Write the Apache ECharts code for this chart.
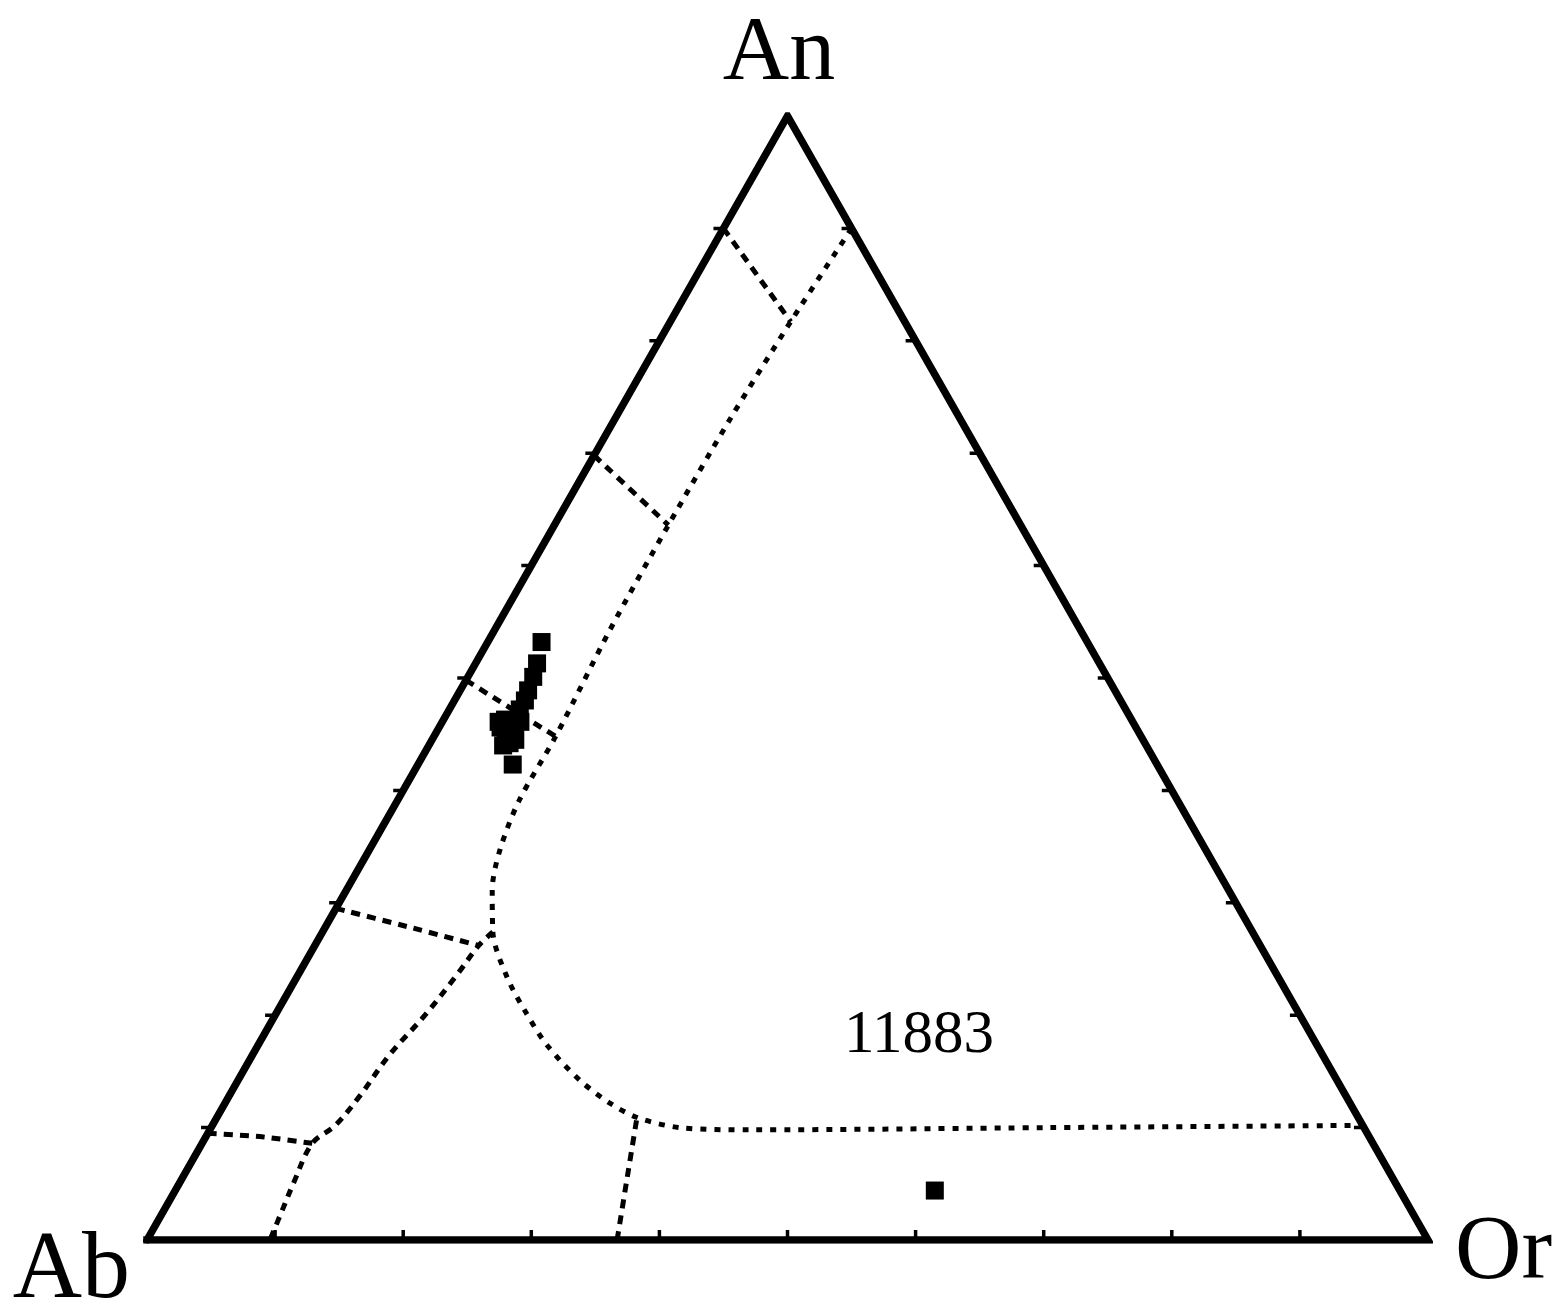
<!DOCTYPE html>
<html>
<head>
<meta charset="utf-8">
<script src="https://cdn.jsdelivr.net/npm/echarts@6/dist/echarts.min.js"></script>
<style>
  html, body { margin: 0; padding: 0; background: #ffffff; }
  #chart { width: 1566px; height: 1309px; }
</style>
</head>
<body>
<div id="chart"></div>
<script>
// Feldspar ternary diagram Ab – An – Or. Every composition is [Ab, An, Or] in mol %.
const vertexNames = ['Ab', 'An', 'Or'];
const sampleLabel = '11883';
const tickPercents = [10, 20, 30, 40, 50, 60, 70, 80, 90];

// analysed plagioclase grains (cluster near the Ab–An join)
const plagioclase = [
  [42.6, 53.2, 4.2], [43.9, 51.3, 4.8], [44.8, 50.1, 5.1], [45.8, 48.9, 5.3],
  [46.5, 48.0, 5.5], [47.3, 47.2, 5.5], [48.3, 46.0, 5.7], [49.1, 45.4, 5.5],
  [49.6, 44.8, 5.6], [49.6, 44.2, 6.2], [49.6, 45.6, 4.8], [50.2, 44.0, 5.8],
  [50.3, 42.3, 7.4], [49.5, 46.1, 4.4], [48.9, 46.3, 4.8], [47.8, 46.1, 6.1],
  [49.0, 44.5, 6.5]
];
// analysed alkali feldspar grain
const alkaliFeldspar = [
  [36.3, 4.4, 59.3]
];

// feldspar solvus (outer boundary)
const solvusOuter = [
  [0.0, 90.0, 10.0], [8.9, 81.7, 9.4], [18.0, 73.0, 9.0], [27.5, 63.6, 8.9],
  [36.7, 54.3, 9.0], [45.7, 44.8, 9.5], [51.4, 39.1, 9.5], [55.1, 34.7, 10.2],
  [57.5, 31.1, 11.4], [59.3, 27.4, 13.3], [60.2, 23.4, 16.4], [60.3, 20.3, 19.4],
  [60.1, 17.3, 22.6], [59.1, 14.2, 26.7], [57.8, 12.2, 30.0], [56.3, 10.9, 32.8],
  [53.4, 10.0, 36.6], [48.0, 9.8, 42.2], [24.5, 10.0, 65.5], [0.0, 10.2, 89.8]
];
// inner boundary towards the Ab corner
const solvusInner = [
  [59.3, 27.4, 13.3], [61.0, 26.2, 12.8], [64.0, 23.6, 12.4], [68.3, 20.0, 11.7],
  [72.8, 16.5, 10.7], [77.0, 12.8, 10.2], [80.2, 10.2, 9.6], [82.8, 8.6, 8.6],
  [86.0, 5.1, 8.9], [87.9, 2.9, 9.2], [90.4, 0.0, 9.6]
];
// tie lines
const tieLines = [
  [[10.0, 90.0, 0.0], [8.9, 81.7, 9.4]],
  [[30.2, 69.8, 0.0], [27.5, 63.6, 8.9]],
  [[50.2, 49.8, 0.0], [45.7, 44.8, 9.5]],
  [[70.5, 29.5, 0.0], [65.5, 27.8, 6.7], [61.0, 26.2, 12.8]],
  [[90.5, 9.5, 0.0], [86.6, 9.2, 4.2], [82.8, 8.6, 8.6]],
  [[63.3, 0.0, 36.7], [59.9, 5.3, 34.8], [56.3, 10.9, 32.8]]
];

// ternary composition -> cartesian position (x: 0..1 along Ab–Or, y: An fraction)
function toXY(c) {
  const s = c[0] + c[1] + c[2];
  const an = c[1] / s, or = c[2] / s;
  return [or + an / 2, an];
}

const BLACK = '#000000';
const series = [];

// frame of the triangle
series.push({
  type: 'line', silent: true, symbol: 'none', z: 5,
  data: [[100, 0, 0], [0, 100, 0], [0, 0, 100], [100, 0, 0]].map(toXY),
  lineStyle: { color: BLACK, width: 7.5, join: 'miter', miterLimit: 10, cap: 'square', opacity: 1 }
});

// 10 % ticks on each edge
const tx = 0.0078, ty = 0.0089;
tickPercents.forEach(function (p) {
  const bottom = toXY([100 - p, 0, p]);
  const left = toXY([100 - p, p, 0]);
  const right = toXY([0, p, 100 - p]);
  [
    [bottom, [bottom[0], bottom[1] + ty]],
    [left, [left[0] - tx, left[1]]],
    [right, [right[0] - tx, right[1]]]
  ].forEach(function (seg) {
    series.push({
      type: 'line', silent: true, symbol: 'none', z: 4,
      data: seg, lineStyle: { color: BLACK, width: 3.5, opacity: 1 }
    });
  });
});

// boundaries
series.push({
  type: 'line', silent: true, symbol: 'none', smooth: 0.3, z: 3,
  data: solvusOuter.map(toXY),
  lineStyle: { color: BLACK, width: 5, type: [6, 8], opacity: 1 }
});
series.push({
  type: 'line', silent: true, symbol: 'none', smooth: 0.35, z: 3,
  data: solvusInner.map(toXY),
  lineStyle: { color: BLACK, width: 5, type: [8, 7], opacity: 1 }
});
tieLines.forEach(function (t) {
  series.push({
    type: 'line', silent: true, symbol: 'none', smooth: 0.2, z: 3,
    data: t.map(toXY),
    lineStyle: { color: BLACK, width: 5, type: [9, 7], opacity: 1 }
  });
});

// analyses
series.push({
  type: 'scatter', silent: true, symbol: 'rect', symbolSize: 18, z: 6,
  data: plagioclase.map(toXY), itemStyle: { color: BLACK, opacity: 1 }
});
series.push({
  type: 'scatter', silent: true, symbol: 'rect', symbolSize: 18, z: 6,
  data: alkaliFeldspar.map(toXY), itemStyle: { color: BLACK, opacity: 1 }
});

const FONT = '"Liberation Serif", "Times New Roman", serif';
const chart = echarts.init(document.getElementById('chart'), null, { renderer: 'canvas' });
chart.setOption({
  animation: false,
  backgroundColor: '#ffffff',
  grid: { left: 147, right: 138, top: 116, bottom: 69 },
  xAxis: { type: 'value', min: 0, max: 1, show: false },
  yAxis: { type: 'value', min: 0, max: 1, show: false },
  series: series,
  graphic: [
    { type: 'text', style: { text: vertexNames[1], x: 779, y: 101, fill: BLACK, font: '92px ' + FONT, textAlign: 'center', textVerticalAlign: 'bottom' } },
    { type: 'text', style: { text: vertexNames[0], x: 130, y: 1320, fill: BLACK, font: '96px ' + FONT, textAlign: 'right', textVerticalAlign: 'bottom' } },
    { type: 'text', style: { text: vertexNames[2], x: 1455, y: 1300, fill: BLACK, font: '92px ' + FONT, textAlign: 'left', textVerticalAlign: 'bottom' } },
    { type: 'text', style: { text: sampleLabel, x: 919, y: 1036, fill: BLACK, font: '61px ' + FONT, textAlign: 'center', textVerticalAlign: 'middle' } }
  ]
});
</script>
</body>
</html>
